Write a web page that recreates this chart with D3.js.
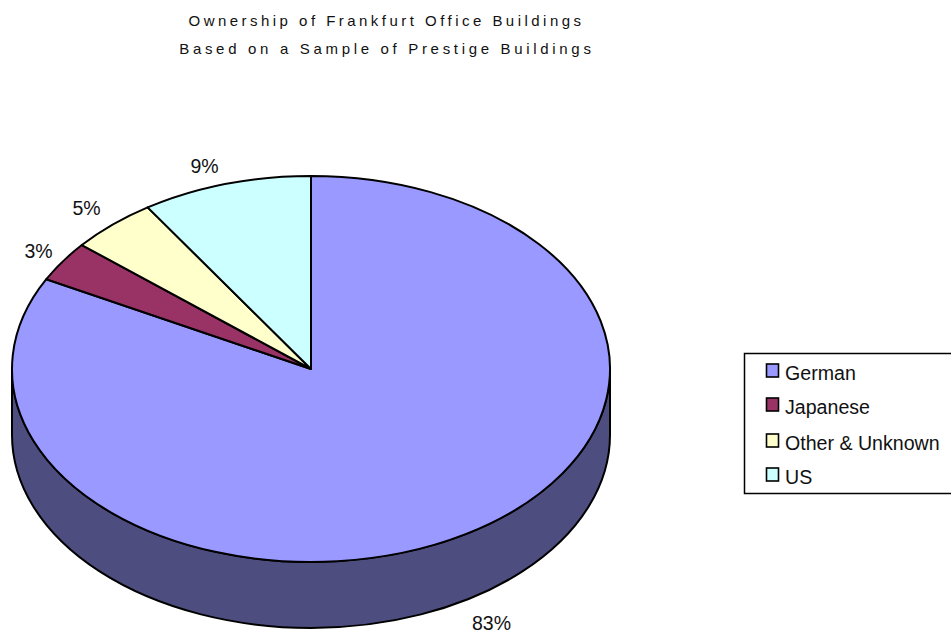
<!DOCTYPE html>
<html><head><meta charset="utf-8">
<script src="https://cdn.jsdelivr.net/npm/d3@7"></script>
<style>
html,body{margin:0;padding:0;background:#fff}
svg{display:block}
text{font-family:"Liberation Sans",Arial,sans-serif}
</style></head><body>
<svg id="c" width="951" height="630"></svg>
<script>
const categories = ["German","Japanese","Other & Unknown","US"];
const shareValues = [82.7,3.4,4.7,9.2];
const topColors = ["#9999ff","#993366","#ffffcc","#ccffff"];
const sideColor = "#4d4d80";
const titleLines = ["Ownership of Frankfurt Office Buildings","Based on a Sample of Prestige Buildings"];

const W=951,H=630,cx=311,cy=369,rx=299,ry=193,depth=66;
const svg=d3.select("#c");

svg.selectAll("text.t").data(titleLines).join("text").attr("class","t")
  .attr("x",(d,i)=>i?386.9:386.5).attr("y",(d,i)=>26+i*28).attr("text-anchor","middle")
  .attr("font-size",15).attr("letter-spacing",(d,i)=>i?3.68:3.47).attr("fill","#111").text(d=>d);

svg.append("path")
  .attr("d",`M${cx-rx},${cy}A${rx},${ry} 0 0 0 ${cx+rx},${cy}L${cx+rx},${cy+depth}A${rx},${ry} 0 0 1 ${cx-rx},${cy+depth}Z`)
  .attr("fill",sideColor).attr("stroke","#000").attr("stroke-width",2).attr("stroke-linejoin","round");

const pie=d3.pie().sort(null).value(d=>d)(shareValues);
const arc=d3.arc().innerRadius(0).outerRadius(rx);
const g=svg.append("g").attr("transform",`translate(${cx},${cy}) scale(1,${ry/rx})`);
g.selectAll("path").data(pie).join("path")
  .attr("d",arc).attr("fill",(d,i)=>topColors[i])
  .attr("stroke","#000").attr("stroke-width",2).attr("stroke-linejoin","round")
  .attr("vector-effect","non-scaling-stroke");

const fmt=v=>Math.round(v)+"%";
const labelPos=[[491.5,629.5],[38.5,257.5],[86.5,214.5],[204.5,173]];
svg.selectAll("text.v").data(pie).join("text").attr("class","v")
  .attr("x",(d,i)=>labelPos[i][0]).attr("y",(d,i)=>labelPos[i][1])
  .attr("text-anchor","middle")
  .attr("font-size",19.5).attr("fill","#111").text(d=>fmt(d.data));

svg.append("rect").attr("x",744.5).attr("y",353.5).attr("width",220).attr("height",140)
  .attr("fill","#fff").attr("stroke","#000").attr("stroke-width",1.5);
const rowY=[373,407,443,477];
const lg=svg.selectAll("g.l").data(categories).join("g").attr("class","l")
  .attr("transform",(d,i)=>`translate(0,${rowY[i]})`);
lg.append("rect").attr("x",766.5).attr("y",-9).attr("width",12).attr("height",13)
  .attr("fill",(d,i)=>topColors[i]).attr("stroke","#000").attr("stroke-width",1.6);
lg.append("text").attr("x",785).attr("y",7).attr("font-size",19.6).attr("fill","#111").text(d=>d);
</script>
</body></html>
